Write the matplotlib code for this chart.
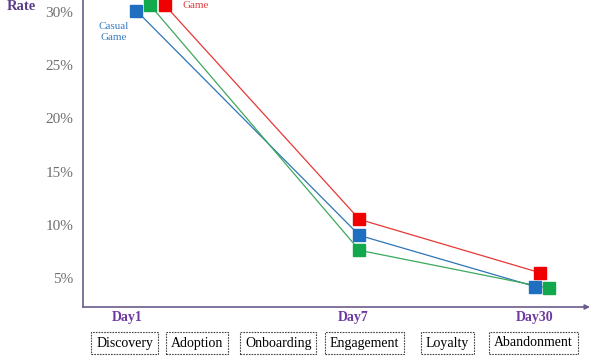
import matplotlib.pyplot as plt
import matplotlib.transforms as mtransforms

plt.rcParams['font.family'] = ['Liberation Serif', 'DejaVu Serif']

# data
days = ['Day1', 'Day7', 'Day30']
stages = ['Discovery', 'Adoption', 'Onboarding', 'Engagement', 'Loyalty', 'Abandonment']
casual = [30.1, 9.0, 4.2]      # blue
mid = [30.6, 7.6, 4.05]        # green
hardcore = [30.6, 10.5, 5.5]   # red
yticks = [5, 10, 15, 20, 25, 30]

# layout (x in "stage" units, 0 = Discovery box)
day_x = [0.32, 2.87, 5.07]
day_label_x = [0.04, 2.79, 5.01]
stage_x = [0.01, 0.89, 1.88, 2.93, 3.94, 4.99]
series = [
    (casual, '#1F6FC0', '#2E75B6', [-0.17, 0, -0.06]),
    (mid, '#12A84E', '#3DA85C', [0.0, 0, 0.11]),
    (hardcore, '#F00000', '#E53935', [0.18, 0, 0.0]),
]

fig = plt.figure(figsize=(6, 3.59), dpi=100)
ax = fig.add_axes([83 / 600, 52 / 359, (590 - 83) / 600, 307 / 359])
ax.set_xlim(-0.5, 5.68)
ax.set_ylim(2.28, 31.1)

for vals, mcol, lcol, dodge in series:
    xs = [d + o for d, o in zip(day_x, dodge)]
    ax.plot(xs, vals, color=lcol, lw=0.9, zorder=2)
    ax.plot(xs, vals, ls='none', marker='s', ms=8.8, color=mcol, zorder=3)

# axes look
for s in ['top', 'right', 'bottom']:
    ax.spines[s].set_visible(False)
ax.spines['left'].set_color('#6B5B8C')
ax.spines['left'].set_linewidth(1.2)
ax.annotate('', xy=(1.0, 0), xytext=(0, 0), xycoords='axes fraction',
            arrowprops=dict(arrowstyle='-|>', color='#6B5B8C', lw=1.2,
                            mutation_scale=7, shrinkA=0, shrinkB=0))
ax.set_xticks([])
ax.set_yticks(yticks)
ax.set_yticklabels([f'{t}%' for t in yticks])
ax.tick_params(axis='y', length=0, pad=7, labelsize=11, labelcolor='#6E6E6E')

# series labels
ax.text(-0.13, 28.1, 'Casual\nGame', color='#3A7DC0', fontsize=8,
        ha='center', va='center', linespacing=1.25)
ax.text(0.87, 30.6, 'Game', color='#E04040', fontsize=8, ha='center', va='center')
fig.text(0.035, 0.983, 'Rate', color='#5B3E8A', fontsize=10.5, fontweight='bold',
         ha='center', va='center')

# day labels and stage boxes under the axis
trans = mtransforms.blended_transform_factory(ax.transData, fig.transFigure)
for x, d in zip(day_label_x, days):
    ax.text(x, 1 - 318 / 359, d, transform=trans, color='#6E3AA0', fontsize=10,
            fontweight='bold', ha='center', va='center')
for x, s in zip(stage_x, stages):
    ax.text(x, 1 - 343 / 359, s, transform=trans, color='black', fontsize=10,
            ha='center', va='center',
            bbox=dict(boxstyle='square,pad=0.35', fc='white', ec='#444444',
                      lw=0.8, ls=(0, (1.5, 1))))

fig.savefig('out.png', dpi=100)
